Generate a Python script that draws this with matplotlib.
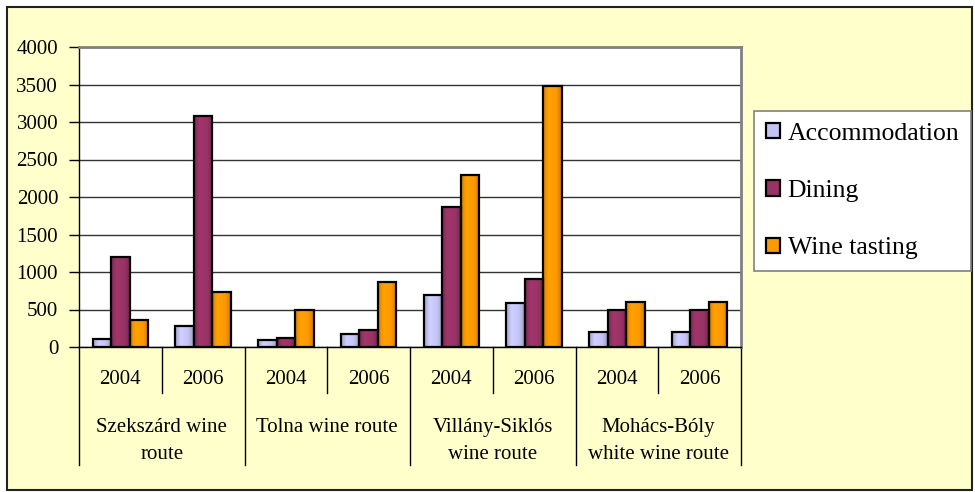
import matplotlib
matplotlib.use("Agg")
import matplotlib.pyplot as plt
from matplotlib.patches import Rectangle
from matplotlib.lines import Line2D
from matplotlib.colors import to_rgb
import numpy as np

years = ["2004", "2006", "2004", "2006", "2004", "2006", "2004", "2006"]
routes = ["Szekszárd wine\nroute", "Tolna wine route",
          "Villány-Siklós\nwine route", "Mohács-Bóly\nwhite wine route"]
series = ["Accommodation", "Dining", "Wine tasting"]
accommodation = [110, 285, 90, 178, 690, 592, 200, 200]
dining = [1200, 3077, 115, 232, 1861, 904, 500, 500]
wine_tasting = [360, 735, 500, 873, 2293, 3477, 600, 600]
yticks = [0, 500, 1000, 1500, 2000, 2500, 3000, 3500, 4000]

colors = ["#C4C4F4", "#993366", "#FF9900"]

plt.rcParams['font.family'] = ['Liberation Serif', 'DejaVu Serif']

W, H = 975, 492
fig = plt.figure(figsize=(W / 100, H / 100), dpi=100)
fig.patch.set_facecolor("white")
fig.patches.append(Rectangle((7 / W, 1 - 490 / H), (972 - 7) / W, (490 - 7) / H,
                             transform=fig.transFigure, facecolor="#FFFFCC",
                             edgecolor="#222222", linewidth=1.5, zorder=-5))

L, R, T, B = 79, 741, 47, 347
ax = fig.add_axes([L / W, 1 - B / H, (R - L) / W, (B - T) / H])
ax.set_zorder(1)
ax.set_facecolor("white")

n = len(years)
x = np.arange(n) + 0.5
bw = 0.224
containers = []
for i, (vals, c, lab) in enumerate(zip([accommodation, dining, wine_tasting], colors, series)):
    bc = ax.bar(x + (i - 1) * bw, vals, width=bw, color=c, edgecolor="black",
                linewidth=1.6, label=lab, zorder=3)
    containers.append((bc, c))

ax.set_xlim(0, n)
ax.set_ylim(0, 4000)
ax.set_yticks(yticks)
ax.set_yticklabels([str(v) for v in yticks], fontsize=15)
ax.yaxis.grid(True, color="#333333", linewidth=1.0, zorder=0)
ax.set_axisbelow(True)
ax.tick_params(axis="y", direction="out", length=7, width=1, color="black", pad=8)
ax.set_xticks([])
for s in ["top", "right"]:
    ax.spines[s].set_color("#808080")
    ax.spines[s].set_linewidth(2)
ax.spines["left"].set_color("black")
ax.spines["left"].set_linewidth(1)
ax.spines["bottom"].set_color("black")
ax.spines["bottom"].set_linewidth(1)

def ydata(pix_y):
    return (B - pix_y) / (B - T) * 4000

for k in range(n + 1):
    yb = ydata(465) if k % 2 == 0 else ydata(393)
    ax.add_line(Line2D([k, k], [0, yb], color="black", linewidth=1, clip_on=False))
for k, yr in enumerate(years):
    ax.text(k + 0.5, ydata(380), yr, ha="center", va="center", fontsize=15, clip_on=False)
for g, r in enumerate(routes):
    ax.text(2 * g + 1, ydata(418), r, ha="center", va="top", fontsize=15,
            linespacing=1.55, clip_on=False)

leg = fig.legend(loc="upper left", bbox_to_anchor=(754 / W, 1 - 111 / H),
                 fontsize=18.5, frameon=True, fancybox=False, edgecolor="#808080",
                 framealpha=1, facecolor="white", handlelength=0.56, handleheight=0.56,
                 handletextpad=0.3, labelspacing=1.38, borderpad=0.45, borderaxespad=0)
leg.get_frame().set_linewidth(1.2)
for h in leg.legend_handles:
    h.set_linewidth(1.6)

# subtle horizontal shading inside bars
t = np.linspace(0, 1, 64)
shade = np.interp(t, [0, 0.3, 0.7, 1], [0.82, 1.06, 1.0, 0.8])
for bc, c in containers:
    base = np.array(to_rgb(c))
    grad = np.clip(shade[:, None] * base[None, :], 0, 1)[None, :, :]
    for p in bc.patches:
        x0, y0 = p.get_x(), p.get_y()
        im = ax.imshow(grad, extent=(x0, x0 + p.get_width(), y0, y0 + p.get_height()),
                       aspect="auto", origin="lower", zorder=3.1, interpolation="bilinear")
        im.set_clip_path(p)
        p.set_facecolor("none")
        p.set_zorder(3.2)

ax.set_xlim(0, n)
ax.set_ylim(0, 4000)

fig.savefig("out.png", dpi=100, facecolor=fig.get_facecolor())
